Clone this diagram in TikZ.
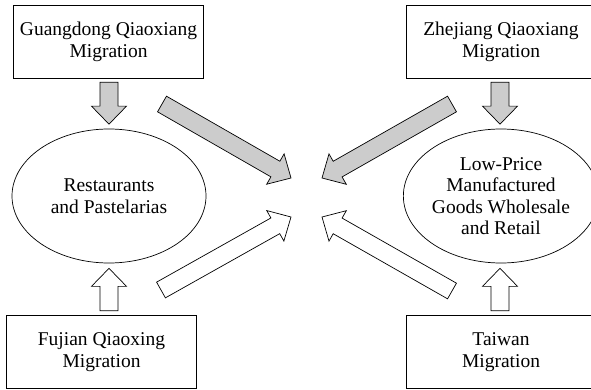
\documentclass[tikz,border=0pt]{standalone}
\usepackage{fontspec}
\setmainfont{Liberation Serif}
\usetikzlibrary{calc,shapes.geometric}

\tikzset{
  migbox/.style={draw, line width=0.7pt, minimum width=190pt, minimum height=73pt,
    align=center, font=\fontsize{19.5}{22}\selectfont},
  sector/.style={draw, ellipse, line width=0.7pt, minimum width=194pt, minimum height=134pt,
    inner sep=0pt, align=center, font=\fontsize{19.5}{21.5}\selectfont},
}

% block arrow from #2 to #3, filled with #1
\newcommand\flowarrow[3][white]{%
  \coordinate (fa-h) at ($(#3)!18pt!(#2)$);
  \draw[fill=#1, line width=0.7pt, line join=miter]
    ($(#2)!9pt!90:(#3)$) -- ($(fa-h)!9pt!90:(#3)$) -- ($(fa-h)!17.5pt!90:(#3)$)
    -- (#3) -- ($(fa-h)!17.5pt!-90:(#3)$) -- ($(fa-h)!9pt!-90:(#3)$)
    -- ($(#2)!9pt!-90:(#3)$) -- cycle;
}

\begin{document}
\begin{tikzpicture}[x=1pt, y=-1pt]
  \useasboundingbox (0,0) rectangle (591,390);
  \clip (0,0) rectangle (591,390);

  % origins
  \node[migbox] (gd) at (108.5, 41.5) {Guangdong Qiaoxiang\\Migration};
  \node[migbox] (zj) at (501, 41.5) {Zhejiang Qiaoxiang\\Migration};
  \node[migbox] (fj) at (101.5, 352) {Fujian Qiaoxing\\Migration};
  \node[migbox] (tw) at (501, 352) {Taiwan\\Migration};

  % sectors
  \node[sector] (rest) at (109, 196) {Restaurants\\and Pastelarias};
  \node[sector] (goods) at (501, 196) {Low-Price\\Manufactured\\Goods Wholesale\\and Retail};

  % arrow ends
  \coordinate (hub) at (306.5, 197.5);
  \coordinate (gd-out) at ($(gd.south -| rest.north)+(0,4)$);
  \coordinate (gd-in) at ($(rest.north)+(0,-4.5)$);
  \coordinate (fj-out) at ($(fj.north -| rest.south)+(0,-4.5)$);
  \coordinate (fj-in) at ($(rest.south)+(0,5)$);
  \coordinate (zj-out) at ($(zj.south)+(-1,4)$);
  \coordinate (zj-in) at ($(zj-out |- goods.north)+(0,-4.5)$);
  \coordinate (tw-out) at ($(tw.north)+(-1,-4.5)$);
  \coordinate (tw-in) at ($(tw-out |- goods.south)+(0,5)$);

  \coordinate (gd-tail) at (162, 104);
  \coordinate (zj-tail) at (452, 104);
  \coordinate (fj-tail) at (161, 290);
  \coordinate (tw-tail) at (452, 291);
  \coordinate (gd-tip) at ($(hub)+(-15.5,-19.5)$);
  \coordinate (zj-tip) at ($(hub)+(15.5,-19.5)$);
  \coordinate (fj-tip) at ($(hub)+(-15.5,19.5)$);
  \coordinate (tw-tip) at ($(hub)+(15.5,19.5)$);

  \flowarrow[black!20]{gd-out}{gd-in}
  \flowarrow[black!20]{zj-out}{zj-in}
  \flowarrow{fj-out}{fj-in}
  \flowarrow{tw-out}{tw-in}

  \flowarrow[black!20]{gd-tail}{gd-tip}
  \flowarrow[black!20]{zj-tail}{zj-tip}
  \flowarrow{fj-tail}{fj-tip}
  \flowarrow{tw-tail}{tw-tip}
\end{tikzpicture}
\end{document}
